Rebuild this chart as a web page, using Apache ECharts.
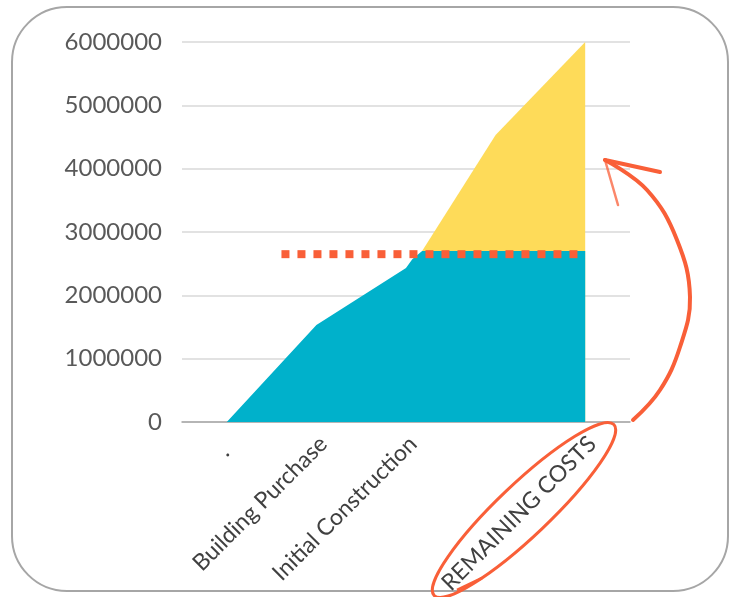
<!DOCTYPE html>
<html><head><meta charset="utf-8">
<script src="https://cdn.jsdelivr.net/npm/echarts@6/dist/echarts.min.js"></script>
<style>html,body{margin:0;padding:0;background:#fff}#c{width:737px;height:597px}</style>
</head><body><div id="c"></div>
<script>
// Category labels on the x axis
const categories = ['.', 'Building Purchase', 'Initial Construction', '', 'REMAINING COSTS'];
// Y-axis ticks
const yTicks = [0, 1000000, 2000000, 3000000, 4000000, 5000000, 6000000];
// Spent-cost area (teal): positions along the category scale and values
const spentPos = [0, 1, 2, 2.07, 2.18, 4];
const spentVal = [0, 1530000, 2430000, 2570000, 2700000, 2700000];
// Remaining-cost area (yellow)
const remainPos = [2.18, 3, 4];
const remainVal = [2700000, 4530000, 6000000];
// Dotted reference line (funds raised)
const refPos = [0.61, 4];
const refVal = [2650000, 2650000];

const zip = (a, b) => a.map((v, i) => [v, b[i]]);
const chart = echarts.init(document.getElementById('c'));
const orange = '#F95F38';
chart.setOption({
  backgroundColor: '#fff',
  animation: false,
  grid: [
    { left: 182, right: 107, top: 42, bottom: 175 },
    { left: 189, right: 100, top: 42, bottom: 175 }
  ],
  xAxis: [
    { type: 'value', gridIndex: 0, min: -0.5, max: 4.5,
      axisLine: { show: true, lineStyle: { color: '#a6a6a6', width: 1.5 } },
      axisTick: { show: false }, axisLabel: { show: false }, splitLine: { show: false } },
    { type: 'category', gridIndex: 1, data: categories, boundaryGap: true, position: 'bottom',
      axisLine: { show: false }, axisTick: { show: false },
      axisLabel: { rotate: 45, margin: 23, color: '#404040', fontSize: 23, fontFamily: 'Lato', interval: 0,
        formatter: v => v === '.' ? '{d|.}' : v,
        rich: { d: { fontSize: 23, fontFamily: 'Lato', color: '#404040', padding: [0, 12, 0, 0] } } } }
  ],
  yAxis: [
    { type: 'value', gridIndex: 0, min: yTicks[0], max: yTicks[yTicks.length - 1], interval: yTicks[1] - yTicks[0],
      axisLine: { show: false }, axisTick: { show: false },
      axisLabel: { color: '#595959', fontSize: 24, fontFamily: 'Lato', margin: 20, formatter: v => String(v) },
      splitLine: { lineStyle: { color: '#d9d9d9', width: 1.5 } } },
    { type: 'value', gridIndex: 1, show: false }
  ],
  series: [
    { type: 'line', xAxisIndex: 0, yAxisIndex: 0, data: zip(remainPos, remainVal), showSymbol: false,
      lineStyle: { width: 0 }, areaStyle: { color: '#FEDB59', opacity: 1 }, z: 2 },
    { type: 'line', xAxisIndex: 0, yAxisIndex: 0, data: zip(spentPos, spentVal), showSymbol: false,
      lineStyle: { width: 0 }, areaStyle: { color: '#00B1CB', opacity: 1 }, z: 3 },
    { type: 'line', xAxisIndex: 0, yAxisIndex: 0, data: zip(refPos, refVal), showSymbol: false,
      lineStyle: { color: orange, width: 8, type: [8, 8], cap: 'butt' }, z: 4 }
  ],
  graphic: [
    { type: 'rect', shape: { x: 12, y: 7, width: 716, height: 584, r: 55 },
      style: { fill: 'none', stroke: '#a6a6a6', lineWidth: 2 }, silent: true },
    { type: 'ellipse', x: 524, y: 510, rotation: 0.76, shape: { cx: 0, cy: 0, rx: 124, ry: 26 },
      style: { fill: 'none', stroke: orange, lineWidth: 3 }, silent: true, z: 10 },
    { type: 'line', shape: { x1: 457, y1: 590, x2: 482, y2: 578 },
      style: { stroke: orange, lineWidth: 2.5 }, silent: true, z: 10 },
    { type: 'polyline', shape: { points: [[633, 420], [660, 390], [680, 347], [690, 297], [677, 240], [647, 190], [605, 160]], smooth: 0.4 },
      style: { fill: 'none', stroke: orange, lineWidth: 4, lineCap: 'round' }, silent: true, z: 10 },
    { type: 'polyline', shape: { points: [[660, 172], [605, 160]] },
      style: { fill: 'none', stroke: orange, lineWidth: 4, lineCap: 'round' }, silent: true, z: 10 },
    { type: 'polyline', shape: { points: [[605, 160], [618, 205]] },
      style: { fill: 'none', stroke: orange, lineWidth: 2.5, lineCap: 'round', opacity: 0.75 }, silent: true, z: 10 }
  ]
});
</script></body></html>
